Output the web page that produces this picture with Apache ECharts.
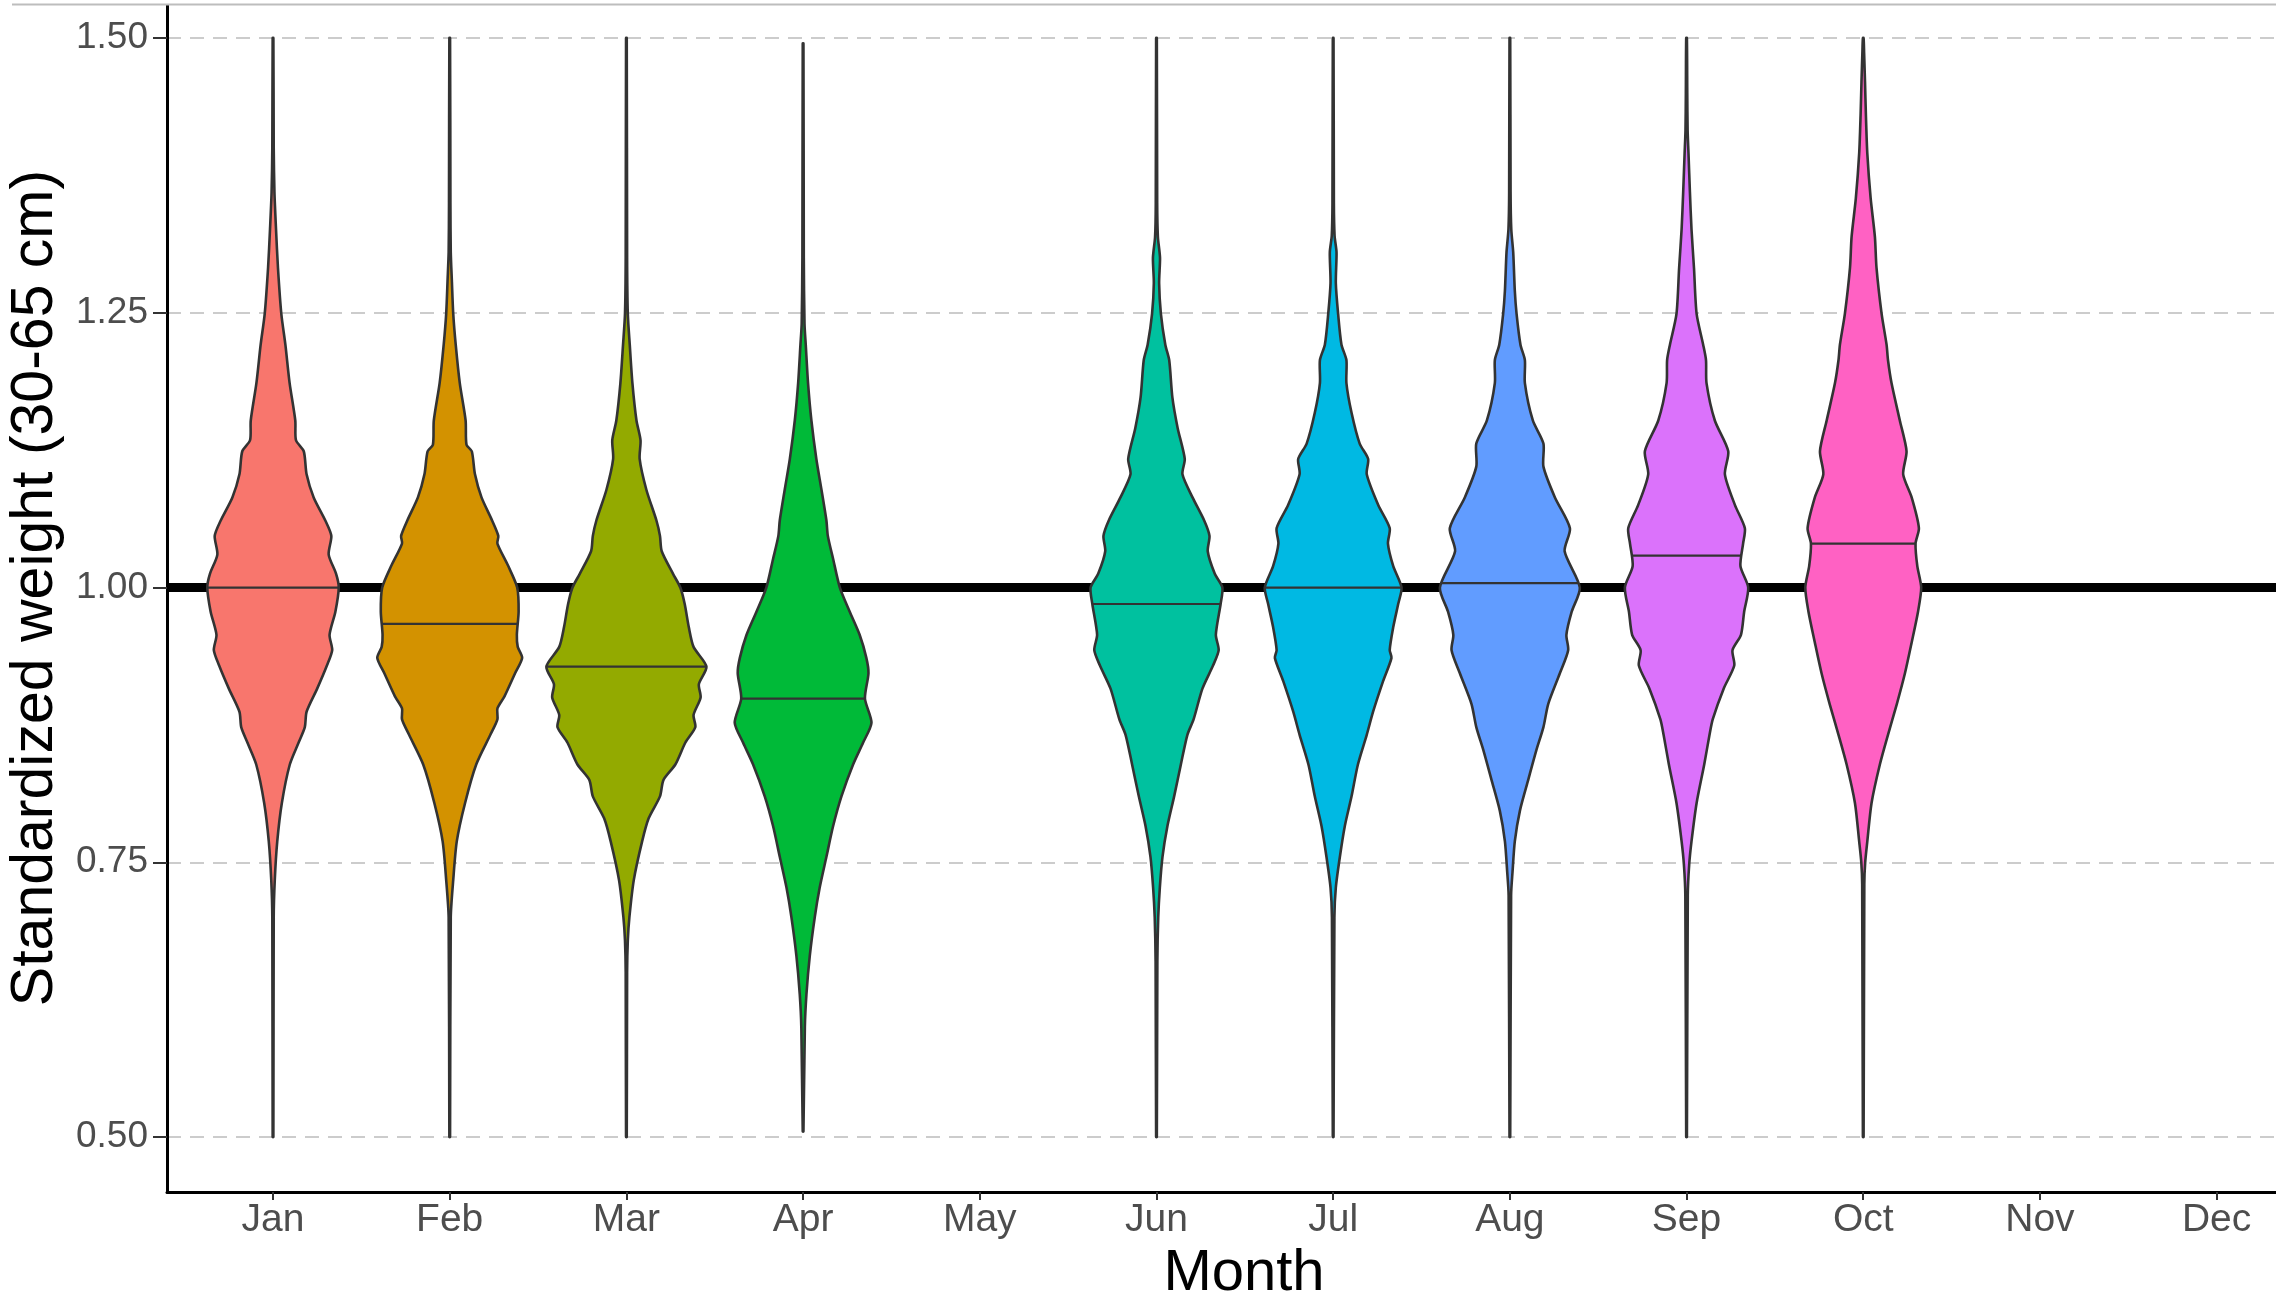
<!DOCTYPE html>
<html>
<head>
<meta charset="utf-8">
<script src="https://cdn.jsdelivr.net/npm/echarts@6/dist/echarts.min.js"></script>
<style>
html,body{margin:0;padding:0;background:#ffffff;}
#chart{width:2276px;height:1295px;}
</style>
</head>
<body>
<div id="chart"></div>
<script>
// ---------- data ----------
const months = ['Jan','Feb','Mar','Apr','May','Jun','Jul','Aug','Sep','Oct','Nov','Dec'];
const monthTicks = [0,1,2,3,4,5,6,7,8,9,10,11];
const yTicks = [0.5, 0.75, 1.0, 1.25, 1.5];
const referenceValue = 1.0;

const violinMonths = ['Jan','Feb','Mar','Apr','Jun','Jul','Aug','Sep','Oct'];
const violinColors = ['#F8766D','#D39200','#93AA00','#00BA38','#00C19F','#00B9E3','#619CFF','#DB72FB','#FF61C3'];
const medians = [1.000, 0.967, 0.928, 0.899, 0.985, 1.000, 1.004, 1.029, 1.040];

// density profiles: [standardized weight, half-width in month units]
const janProfile = [[0.50,0.002],[0.70,0.004],[0.734,0.010],[0.769,0.024],[0.804,0.05],[0.839,0.095],[0.859,0.145],[0.873,0.18],[0.887,0.19],[0.908,0.25],[0.929,0.305],[0.943,0.335],[0.957,0.32],[0.978,0.353],[1.0,0.372],[1.0125,0.357],[1.03,0.315],[1.047,0.33],[1.061,0.296],[1.082,0.23],[1.103,0.19],[1.124,0.174],[1.134,0.13],[1.152,0.126],[1.186,0.094],[1.221,0.07],[1.249,0.047],[1.291,0.028],[1.326,0.017],[1.36,0.008],[1.40,0.004],[1.50,0.002]];
const febProfile = [[0.50,0.002],[0.70,0.006],[0.734,0.02],[0.769,0.04],[0.804,0.087],[0.839,0.15],[0.866,0.23],[0.88,0.27],[0.89,0.27],[0.901,0.31],[0.922,0.37],[0.936,0.41],[0.946,0.385],[0.957,0.38],[0.978,0.39],[1.0,0.382],[1.02,0.33],[1.04,0.27],[1.047,0.275],[1.061,0.24],[1.082,0.18],[1.103,0.143],[1.124,0.125],[1.13,0.095],[1.152,0.09],[1.186,0.057],[1.221,0.034],[1.249,0.02],[1.28,0.012],[1.305,0.006],[1.35,0.004],[1.50,0.002]];
const marProfile = [[0.50,0.002],[0.65,0.004],[0.679,0.008],[0.70,0.017],[0.734,0.042],[0.769,0.089],[0.79,0.126],[0.81,0.19],[0.825,0.21],[0.839,0.277],[0.859,0.334],[0.873,0.39],[0.884,0.38],[0.90,0.42],[0.912,0.41],[0.928,0.453],[0.946,0.38],[0.964,0.353],[0.985,0.33],[1.0,0.305],[1.0125,0.264],[1.033,0.2],[1.047,0.19],[1.061,0.17],[1.089,0.113],[1.117,0.075],[1.134,0.08],[1.152,0.057],[1.186,0.034],[1.221,0.019],[1.249,0.008],[1.30,0.004],[1.50,0.002]];
const aprProfile = [[0.505,0.002],[0.60,0.01],[0.63,0.019],[0.665,0.038],[0.70,0.066],[0.727,0.094],[0.755,0.132],[0.783,0.17],[0.81,0.217],[0.839,0.283],[0.859,0.34],[0.877,0.387],[0.899,0.35],[0.922,0.37],[0.936,0.358],[0.957,0.32],[0.978,0.264],[1.0,0.208],[1.026,0.17],[1.047,0.14],[1.061,0.132],[1.089,0.104],[1.117,0.075],[1.152,0.047],[1.186,0.028],[1.221,0.015],[1.24,0.008],[1.30,0.004],[1.495,0.002]];
const junProfile = [[0.50,0.002],[0.66,0.005],[0.70,0.01],[0.727,0.019],[0.755,0.034],[0.783,0.062],[0.81,0.10],[0.839,0.138],[0.866,0.175],[0.88,0.21],[0.908,0.26],[0.929,0.32],[0.943,0.352],[0.957,0.336],[0.985,0.363],[1.0,0.373],[1.0125,0.33],[1.033,0.29],[1.047,0.30],[1.061,0.27],[1.082,0.204],[1.103,0.147],[1.117,0.16],[1.145,0.12],[1.173,0.09],[1.207,0.072],[1.221,0.05],[1.249,0.025],[1.277,0.015],[1.30,0.02],[1.319,0.008],[1.35,0.004],[1.50,0.002]];
const julProfile = [[0.50,0.002],[0.70,0.007],[0.727,0.015],[0.755,0.038],[0.783,0.066],[0.81,0.104],[0.839,0.14],[0.866,0.19],[0.887,0.226],[0.915,0.283],[0.936,0.33],[0.943,0.32],[0.964,0.34],[0.985,0.368],[1.0,0.387],[1.0195,0.34],[1.04,0.31],[1.054,0.32],[1.075,0.255],[1.103,0.19],[1.117,0.198],[1.131,0.15],[1.159,0.104],[1.186,0.075],[1.207,0.075],[1.221,0.047],[1.249,0.028],[1.277,0.015],[1.305,0.019],[1.32,0.008],[1.35,0.004],[1.50,0.002]];
const augProfile = [[0.50,0.002],[0.72,0.007],[0.741,0.015],[0.769,0.028],[0.797,0.057],[0.825,0.104],[0.852,0.15],[0.873,0.19],[0.894,0.217],[0.922,0.283],[0.943,0.33],[0.957,0.32],[0.978,0.35],[1.0,0.396],[1.033,0.31],[1.054,0.34],[1.082,0.255],[1.11,0.19],[1.131,0.19],[1.152,0.13],[1.186,0.085],[1.207,0.085],[1.221,0.06],[1.249,0.038],[1.27,0.028],[1.305,0.019],[1.326,0.008],[1.36,0.004],[1.50,0.002]];
const sepProfile = [[0.50,0.002],[0.72,0.007],[0.748,0.015],[0.769,0.028],[0.804,0.057],[0.839,0.10],[0.866,0.13],[0.88,0.148],[0.908,0.21],[0.929,0.27],[0.943,0.26],[0.957,0.308],[0.978,0.326],[1.0,0.349],[1.0195,0.305],[1.04,0.32],[1.054,0.33],[1.075,0.274],[1.103,0.217],[1.124,0.236],[1.152,0.16],[1.186,0.113],[1.207,0.11],[1.221,0.094],[1.249,0.057],[1.291,0.042],[1.326,0.028],[1.36,0.019],[1.395,0.011],[1.416,0.006],[1.45,0.004],[1.50,0.002]];
const octProfile = [[0.50,0.002],[0.73,0.006],[0.75,0.011],[0.769,0.023],[0.804,0.047],[0.839,0.094],[0.866,0.14],[0.894,0.19],[0.922,0.236],[0.95,0.274],[0.978,0.31],[1.0,0.328],[1.0195,0.306],[1.04,0.296],[1.054,0.315],[1.082,0.274],[1.103,0.226],[1.124,0.245],[1.152,0.207],[1.186,0.16],[1.207,0.14],[1.221,0.132],[1.249,0.104],[1.291,0.075],[1.319,0.066],[1.354,0.042],[1.395,0.023],[1.43,0.015],[1.46,0.01],[1.486,0.005],[1.50,0.002]];

const profiles = [janProfile, febProfile, marProfile, aprProfile, junProfile, julProfile, augProfile, sepProfile, octProfile];

// visible axis window (the original panel is cropped at the top and right)
const xMin = -0.6, xMax = 11.336;
const yMin = 0.45, yMax = 1.5346;

// ---------- helpers ----------
function widthAt(profile, v) {
  for (let i = 0; i < profile.length - 1; i++) {
    const a = profile[i], b = profile[i + 1];
    if (v >= a[0] && v <= b[0]) {
      const t = (v - a[0]) / (b[0] - a[0]);
      return a[1] + t * (b[1] - a[1]);
    }
  }
  return 0;
}

function violinSeries(idx) {
  const profile = profiles[idx];
  const color = violinColors[idx];
  const xIndex = months.indexOf(violinMonths[idx]);
  return {
    type: 'custom',
    name: violinMonths[idx],
    coordinateSystem: 'cartesian2d',
    z: 3,
    silent: true,
    clip: false,
    data: [[xIndex, medians[idx]]],
    renderItem: function (params, api) {
      const x = api.value(0);
      const med = api.value(1);
      const pts = [];
      for (let i = 0; i < profile.length; i++) {
        pts.push(api.coord([x + profile[i][1], profile[i][0]]));
      }
      for (let i = profile.length - 1; i >= 0; i--) {
        pts.push(api.coord([x - profile[i][1], profile[i][0]]));
      }
      const mw = widthAt(profile, med);
      const p1 = api.coord([x - mw, med]);
      const p2 = api.coord([x + mw, med]);
      return {
        type: 'group',
        children: [
          {
            type: 'polygon',
            shape: { points: pts, smooth: 0.25 },
            style: { fill: color, stroke: '#333333', lineWidth: 2.6 }
          },
          {
            type: 'line',
            shape: { x1: p1[0], y1: p1[1], x2: p2[0], y2: p2[1] },
            style: { stroke: '#333333', lineWidth: 2.2 }
          }
        ]
      };
    }
  };
}

const chart = echarts.init(document.getElementById('chart'), null, { renderer: 'canvas' });

const series = [
  {
    type: 'line',
    name: 'reference',
    data: [[xMin, referenceValue], [xMax, referenceValue]],
    symbol: 'none',
    z: 1,
    silent: true,
    lineStyle: { color: '#000000', width: 9 }
  }
];
for (let i = 0; i < profiles.length; i++) series.push(violinSeries(i));

const option = {
  animation: false,
  backgroundColor: '#ffffff',
  grid: { left: 167, right: 0, top: 0, bottom: 103, containLabel: false, outerBoundsMode: 'none' },
  xAxis: {
    type: 'value',
    min: xMin,
    max: xMax,
    name: 'Month',
    nameLocation: 'middle',
    nameGap: 45,
    nameTextStyle: { fontFamily: 'Liberation Sans', fontSize: 58, color: '#000000', padding: [0, 0, 0, 45] },
    axisLine: { show: true, onZero: false, lineStyle: { color: '#000000', width: 3 } },
    axisTick: { show: true, length: 8, customValues: monthTicks, lineStyle: { color: '#333333', width: 2 } },
    axisLabel: {
      customValues: monthTicks,
      formatter: function (v) { return months[Math.round(v)]; },
      fontFamily: 'Liberation Sans', fontSize: 39, color: '#4d4d4d', margin: 9
    },
    splitLine: { show: false }
  },
  yAxis: {
    type: 'value',
    min: yMin,
    max: yMax,
    name: 'Standardized weight (30-65 cm)',
    nameLocation: 'middle',
    nameGap: 86,
    nameTextStyle: { fontFamily: 'Liberation Sans', fontSize: 59, color: '#000000', padding: [0, 0, 0, 16] },
    axisLine: { show: true, onZero: false, lineStyle: { color: '#000000', width: 3 } },
    axisTick: { show: true, length: 14, customValues: yTicks, lineStyle: { color: '#333333', width: 2 } },
    axisLabel: {
      customValues: yTicks,
      formatter: function (v) { return v.toFixed(2); },
      fontFamily: 'Liberation Sans', fontSize: 37, color: '#4d4d4d', margin: 19
    },
    splitLine: { show: true, lineStyle: { color: '#cccccc', width: 2, type: [14, 9] } }
  },
  graphic: [
    { type: 'rect', left: 0, top: 0, z: 100, shape: { x: 0, y: 0, width: 2276, height: 4 }, style: { fill: '#ffffff' } },
    { type: 'line', z: 101, shape: { x1: 12, y1: 4.5, x2: 2276, y2: 4.5 }, style: { stroke: '#bdbdbd', lineWidth: 2 } }
  ],
  series: series
};
chart.setOption(option);
</script>
</body>
</html>
